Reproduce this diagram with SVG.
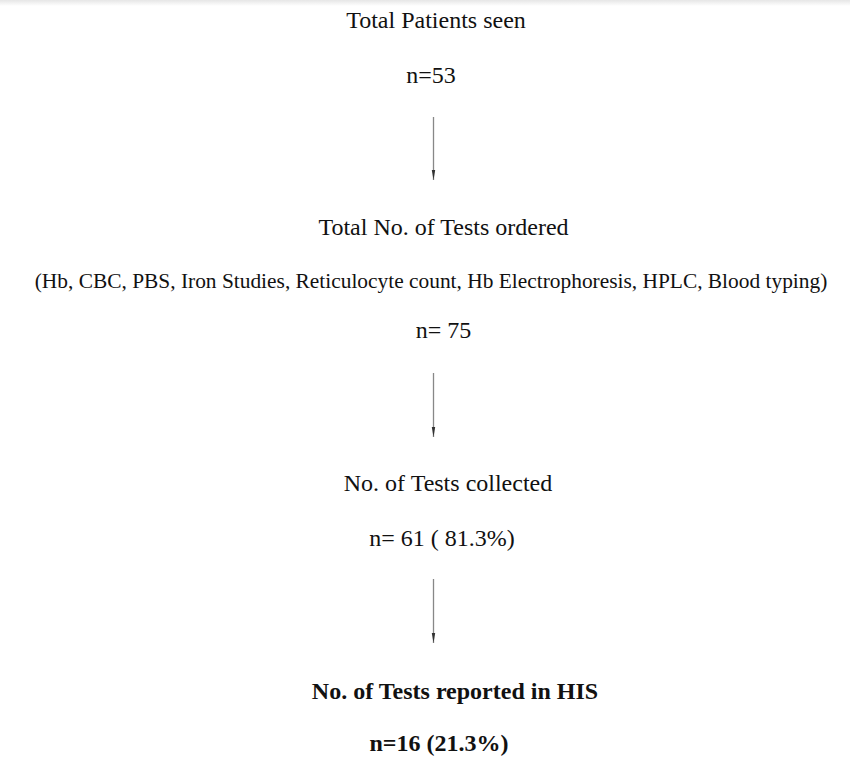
<svg xmlns="http://www.w3.org/2000/svg" width="850" height="758" viewBox="0 0 850 758">
<defs>
<linearGradient id="topfade" x1="0" y1="0" x2="0" y2="1">
<stop offset="0" stop-color="#e6e6e6"/>
<stop offset="1" stop-color="#ffffff"/>
</linearGradient>
<marker id="ah" markerWidth="10" markerHeight="6" refX="10" refY="2" orient="auto" markerUnits="userSpaceOnUse">
<path d="M0,0.3 L10,2 L0,3.7 Z" fill="#333"/>
</marker>
</defs>
<style>
text{font-family:"Liberation Serif","Times New Roman",serif;fill:#111;text-anchor:middle;font-size:24px}
.s{font-size:21.4px}
.b{font-weight:bold}
.c{stroke:#888;stroke-width:1.3;fill:none}
</style>
<rect width="850" height="758" fill="#fff"/>
<rect width="850" height="6" fill="url(#topfade)"/>
<g id="n1"><text x="436" y="28">Total Patients seen</text><text x="431" y="83">n=53</text></g>
<g id="n2"><text x="443.5" y="235">Total No. of Tests ordered</text><text class="s" x="431" y="288">(Hb, CBC, PBS, Iron Studies, Reticulocyte count, Hb Electrophoresis, HPLC, Blood typing)</text><text x="443.5" y="338">n= 75</text></g>
<g id="n3"><text x="448" y="491">No. of Tests collected</text><text x="442" y="546">n= 61 ( 81.3%)</text></g>
<g id="n4"><text class="b" x="455" y="699">No. of Tests reported in HIS</text><text class="b" x="439" y="751">n=16 (21.3%)</text></g>
<g id="connectors">
<line class="c" x1="433.5" y1="117" x2="433.5" y2="180" marker-end="url(#ah)"/>
<line class="c" x1="433.5" y1="373" x2="433.5" y2="437" marker-end="url(#ah)"/>
<line class="c" x1="433.5" y1="579" x2="433.5" y2="643" marker-end="url(#ah)"/>
</g>
</svg>
